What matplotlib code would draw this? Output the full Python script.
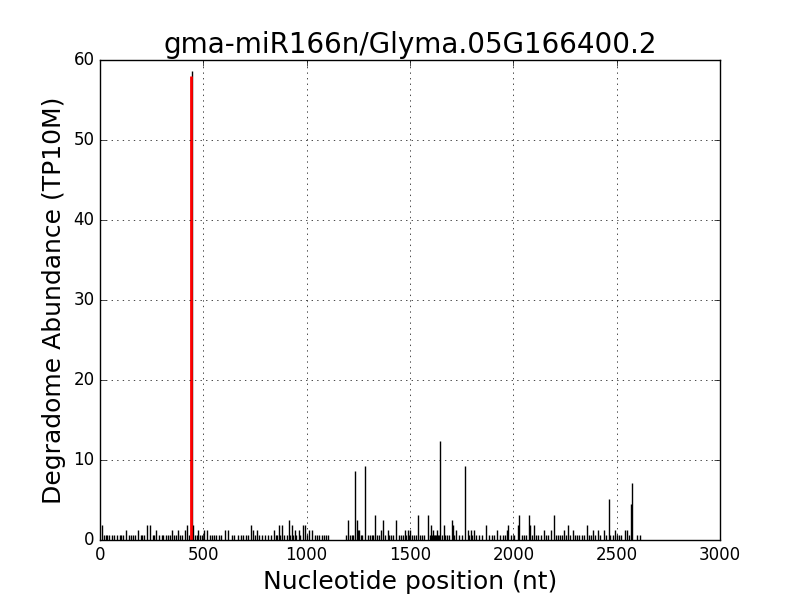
import matplotlib
matplotlib.use("Agg")
import matplotlib.pyplot as plt

plt.style.use("classic")

title = "gma-miR166n/Glyma.05G166400.2"

# single-read (low) peaks
base_pos = [20, 28, 36, 45, 58, 66, 80, 95, 104, 112, 140, 150, 158, 170, 196, 205,
            214, 255, 262, 285, 298, 306, 318, 330, 338, 357, 366, 388, 398, 430,
            460, 468, 485, 495, 530, 540, 552, 562, 575, 585, 640, 650, 668, 680,
            690, 705, 715, 750, 770, 785, 800, 812, 825, 850, 858, 872, 890, 905,
            920, 935, 950, 970, 1000, 1040, 1050, 1060, 1072, 1085, 1095, 1105,
            1190, 1210, 1218, 1225, 1262, 1270, 1295, 1305, 1315, 1322, 1340, 1350,
            1380, 1400, 1410, 1420, 1445, 1455, 1465, 1482, 1495, 1510, 1520, 1530,
            1550, 1560, 1570, 1595, 1605, 1615, 1620, 1625, 1635, 1640, 1655, 1670,
            1680, 1690, 1715, 1735, 1750, 1785, 1800, 1820, 1835, 1850, 1880, 1895,
            1905, 1935, 1950, 1960, 1990, 2005, 2040, 2050, 2060, 2090, 2110, 2120,
            2135, 2160, 2170, 2205, 2215, 2225, 2235, 2255, 2275, 2300, 2310, 2320,
            2330, 2340, 2365, 2375, 2395, 2420, 2450, 2470, 2480, 2500, 2510, 2520,
            2560, 2600, 2612]
base_val = [0.62] * len(base_pos)

# higher peaks
peak_pos = [10, 126, 184, 227, 242, 271, 348, 377, 411, 421, 443, 450, 474, 503,
            518, 605, 619, 731, 740, 760, 842, 866, 880, 914, 929, 943, 963, 982,
            992, 1011, 1026, 1200, 1234, 1243, 1248, 1255, 1282, 1330, 1359, 1369,
            1393, 1432, 1476, 1490, 1500, 1538, 1587, 1601, 1611, 1630, 1647, 1664,
            1703, 1708, 1722, 1768, 1780, 1795, 1809, 1867, 1921, 1969, 1974, 2022,
            2027, 2075, 2080, 2100, 2148, 2182, 2196, 2245, 2264, 2288, 2356, 2385,
            2409, 2438, 2462, 2492, 2540, 2550, 2569, 2574]
peak_val = [1.85, 1.23, 1.23, 1.85, 1.85, 1.23, 1.23, 1.23, 1.23, 1.85, 58.6, 1.85,
            1.23, 1.23, 1.23, 1.23, 1.23, 1.85, 1.23, 1.23, 1.23, 1.85, 1.85, 2.46,
            1.85, 1.23, 1.23, 1.85, 1.85, 1.23, 1.23, 2.46, 8.6, 2.46, 1.23, 1.23,
            9.2, 3.1, 1.23, 2.46, 1.23, 2.46, 1.23, 1.23, 1.23, 3.1, 3.1, 1.85,
            1.23, 1.23, 12.4, 1.85, 2.46, 1.85, 1.23, 9.2, 1.23, 1.23, 1.23, 1.85,
            1.23, 1.23, 1.85, 1.85, 3.1, 3.1, 1.85, 1.85, 1.23, 1.23, 3.1, 1.23,
            1.85, 1.23, 1.85, 1.23, 1.23, 1.23, 5.1, 1.23, 1.23, 1.23, 4.5, 7.1]

# miRNA cleavage site
site_pos = [440]
site_val = [58.0]

fig = plt.figure(figsize=(8, 6), dpi=100)
ax = fig.add_subplot(111)
ax.vlines(base_pos, 0, base_val, colors="black", linewidth=1)
ax.vlines(peak_pos, 0, peak_val, colors="black", linewidth=1)
ax.vlines(site_pos, 0, site_val, colors="red", linewidth=2)
ax.set_xlim(0, 3000)
ax.set_ylim(0, 60)
ax.grid(True)
ax.set_title(title, fontsize=20)
ax.set_xlabel("Nucleotide position (nt)", fontsize=18)
ax.set_ylabel("Degradome Abundance (TP10M)", fontsize=18)
fig.savefig("out.png", dpi=100)
